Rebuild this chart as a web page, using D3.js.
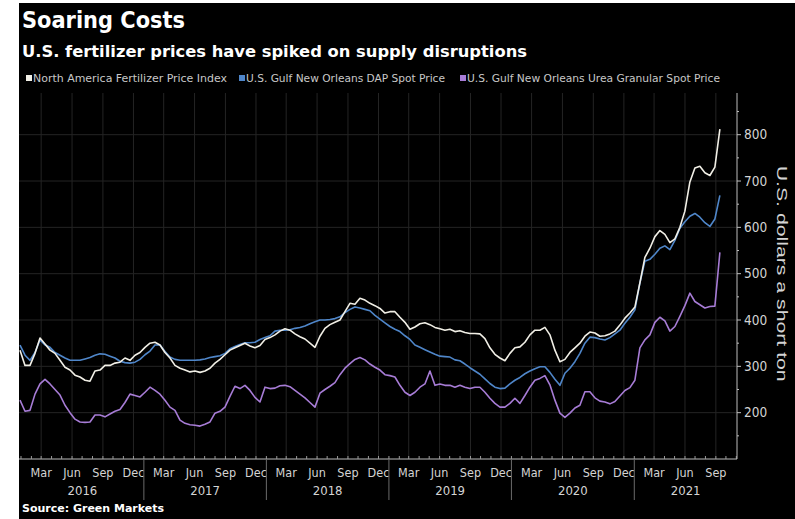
<!DOCTYPE html>
<html>
<head>
<meta charset="utf-8">
<script src="https://cdn.jsdelivr.net/npm/d3@7"></script>
<style>
  html, body { margin: 0; padding: 0; background: #fff; }
  svg { display: block; }
  text { font-family: "Liberation Sans Narrow", "DejaVu Sans Condensed", "Liberation Sans", sans-serif; }
</style>
</head>
<body>
<script>
// ---- Data -------------------------------------------------------------
// Bi-weekly observations, first and last observation dates
const firstObs = "2015-12-29";
const lastObs = "2021-09-13";

// North America Fertilizer Price Index
const naIndex = [
  335,302,302,328,361,348,335,328,313,298,
  292,281,277,270,268,290,292,302,302,307,
  309,318,313,324,330,341,350,352,346,330,
  318,302,296,292,288,290,287,290,296,307,
  315,325,335,340,345,350,344,340,345,358,
  362,368,376,381,378,370,364,359,350,341,
  365,382,390,395,400,418,436,434,447,443,
  436,431,425,415,418,418,406,395,380,385,
  392,394,390,384,381,378,380,375,377,373,
  371,371,370,360,340,326,318,312,328,340,
  342,352,368,378,378,384,368,335,310,315,
  330,340,350,365,374,372,365,366,370,376,
  389,404,415,428,480,535,555,580,593,585,
  567,575,600,635,698,728,732,718,712,730,
  812
];

// U.S. Gulf New Orleans DAP Spot Price
const dapSpot = [
  346,324,313,330,357,346,341,330,324,318,
  313,313,313,316,319,324,327,326,322,318,
  311,308,307,309,315,325,333,346,346,332,
  320,315,313,313,313,313,314,316,319,321,
  323,328,338,343,347,351,351,352,358,362,
  366,376,378,378,379,382,384,387,392,396,
  400,400,401,403,407,416,423,428,426,423,
  420,410,402,394,386,380,375,366,358,346,
  341,336,331,326,322,321,320,314,312,305,
  297,290,283,273,263,255,252,253,262,270,
  276,284,290,295,299,299,287,272,259,285,
  296,310,328,350,363,362,359,357,362,370,
  378,393,406,422,480,527,531,542,555,560,
  552,572,598,612,624,630,622,610,602,618,
  669
];

// U.S. Gulf New Orleans Urea Granular Spot Price
const ureaSpot = [
  227,203,205,240,262,272,262,250,238,216,
  200,186,180,179,180,195,195,191,197,203,
  207,222,240,237,234,244,255,248,240,227,
  212,205,184,177,174,173,171,175,180,199,
  203,212,235,257,252,259,248,233,223,255,
  252,253,258,259,256,248,240,232,222,212,
  242,250,257,265,282,296,306,315,319,314,
  305,298,292,282,280,277,259,244,237,244,
  255,262,290,259,262,259,259,255,259,255,
  252,255,255,244,231,220,212,212,220,231,
  220,237,255,270,274,280,260,227,199,190,
  199,210,216,245,245,232,225,223,219,224,
  236,248,254,270,340,357,368,395,406,398,
  376,386,408,431,458,440,433,426,429,430,
  546
];

const seriesNames = [
  "North America Fertilizer Price Index",
  "U.S. Gulf New Orleans DAP Spot Price",
  "U.S. Gulf New Orleans Urea Granular Spot Price"
];
const seriesColors = ["#f1efe6", "#4f86c9", "#a77cd6"];

const yTicks = [200, 300, 400, 500, 600, 700, 800];
const monthLabels = { 2: "Mar", 5: "Jun", 8: "Sep", 11: "Dec" };
const years = [2016, 2017, 2018, 2019, 2020, 2021];

const titleText = "Soaring Costs";
const subtitleText = "U.S. fertilizer prices have spiked on supply disruptions";
const axisTitle = "U.S. dollars a short ton";
const sourceText = "Source: Green Markets";

// ---- Setup ------------------------------------------------------------
const W = 795, H = 519;
const parse = d3.utcParse("%Y-%m-%d");
const t0 = parse(firstObs), t1 = parse(lastObs);
const n = naIndex.length;
const dates = d3.range(n).map(i => new Date(+t0 + i * (t1 - t0) / (n - 1)));

const plot = { left: 19, right: 737, top: 93, bottom: 459 };

const x = d3.scaleUtc()
  .domain([parse("2015-12-26"), parse("2021-11-03")])
  .range([plot.left, plot.right]);
const y = d3.scaleLinear()
  .domain([100, 890])
  .range([plot.bottom, plot.top]);

const svg = d3.select("body").append("svg")
  .attr("width", W).attr("height", H);

svg.append("rect").attr("width", W).attr("height", H).attr("fill", "#fff");
svg.append("rect").attr("x", 19).attr("y", 3)
  .attr("width", W - 19).attr("height", H - 3).attr("fill", "#000");

// stretch or squeeze a label to a target width
function fit(sel, width) {
  const len = sel.node().getComputedTextLength();
  if (Math.abs(len - width) > 1) {
    sel.attr("textLength", width).attr("lengthAdjust", "spacingAndGlyphs");
  }
  return sel;
}

// ---- Titles -----------------------------------------------------------
fit(svg.append("text").attr("x", 22).attr("y", 28)
  .attr("fill", "#fff").attr("font-size", 23).attr("font-weight", 700)
  .style("font-family", "'DejaVu Sans', sans-serif")
  .text(titleText), 163);

fit(svg.append("text").attr("x", 22).attr("y", 57)
  .attr("fill", "#fff").attr("font-size", 16).attr("font-weight", 700)
  .style("font-family", "'DejaVu Sans', sans-serif")
  .text(subtitleText), 505);

// ---- Legend -----------------------------------------------------------
const legendPos = [{ sq: 26, tx: 33, w: 194 }, { sq: 239, tx: 246, w: 199 }, { sq: 460, tx: 467, w: 253 }];
seriesNames.forEach((name, i) => {
  const p = legendPos[i];
  svg.append("rect").attr("x", p.sq).attr("y", 75)
    .attr("width", 6).attr("height", 6).attr("fill", seriesColors[i]);
  fit(svg.append("text").attr("x", p.tx).attr("y", 82)
    .attr("fill", "#c8c8c8").attr("font-size", 11).text(name), p.w);
});

// ---- Grid -------------------------------------------------------------
const g = svg.append("g");
const quarterMonths = d3.utcMonth.range(x.domain()[0], x.domain()[1])
  .filter(d => monthLabels[d.getUTCMonth()] !== undefined);
const allMonths = d3.utcMonth.range(x.domain()[0], x.domain()[1]);

g.selectAll(".vgrid").data(quarterMonths).join("line")
  .attr("x1", d => x(d)).attr("x2", d => x(d))
  .attr("y1", plot.top).attr("y2", plot.bottom)
  .attr("stroke", "#242424").attr("stroke-width", 1);

g.selectAll(".hgrid").data(yTicks).join("line")
  .attr("x1", plot.left).attr("x2", plot.right)
  .attr("y1", d => y(d)).attr("y2", d => y(d))
  .attr("stroke", "#242424").attr("stroke-width", 1);

// ---- Lines ------------------------------------------------------------
const line = d3.line().x((d, i) => x(dates[i])).y(d => y(d)).curve(d3.curveLinear);
const seriesData = [naIndex, dapSpot, ureaSpot];
[2, 1, 0].forEach(i => {
  svg.append("path").datum(seriesData[i])
    .attr("d", line)
    .attr("fill", "none")
    .attr("stroke", seriesColors[i])
    .attr("stroke-width", 1.6)
    .attr("stroke-linejoin", "round");
});

// ---- X axis -----------------------------------------------------------
svg.append("line").attr("x1", plot.left).attr("x2", plot.right)
  .attr("y1", plot.bottom).attr("y2", plot.bottom)
  .attr("stroke", "#bdbdbd").attr("stroke-width", 1);

svg.selectAll(".mtick").data(allMonths).join("line")
  .attr("x1", d => x(d)).attr("x2", d => x(d))
  .attr("y1", plot.bottom - 3).attr("y2", plot.bottom)
  .attr("stroke", "#9a9a9a");

svg.selectAll(".mlabel").data(quarterMonths).join("text")
  .attr("x", d => x(d)).attr("y", 477)
  .attr("text-anchor", "middle").attr("fill", "#d4d4d4")
  .attr("font-size", 12.5)
  .text(d => monthLabels[d.getUTCMonth()]);

// year separators
const yearStarts = years.slice(1).map(yr => Date.UTC(yr, 0, 1));
svg.selectAll(".ysep").data(yearStarts).join("line")
  .attr("x1", d => x(d)).attr("x2", d => x(d))
  .attr("y1", plot.bottom).attr("y2", 500)
  .attr("stroke", "#6a6a6a");

svg.selectAll(".ylabel").data(years).join("text")
  .attr("x", yr => {
    const a = Math.max(x(Date.UTC(yr, 0, 1)), plot.left);
    const b = Math.min(x(Date.UTC(yr + 1, 0, 1)), plot.right);
    return (a + b) / 2;
  })
  .attr("y", 495)
  .attr("text-anchor", "middle").attr("fill", "#d4d4d4")
  .attr("font-size", 13)
  .text(yr => yr);

// ---- Y axis (right) ---------------------------------------------------
svg.append("line").attr("x1", plot.right).attr("x2", plot.right)
  .attr("y1", plot.top).attr("y2", plot.bottom)
  .attr("stroke", "#bdbdbd").attr("stroke-width", 1);

const minorTicks = d3.range(150, 900, 50).filter(v => y(v) >= plot.top);
svg.selectAll(".ytick").data(minorTicks).join("line")
  .attr("x1", plot.right).attr("x2", v => plot.right + (v % 100 === 0 ? 4 : 2))
  .attr("y1", v => y(v)).attr("y2", v => y(v))
  .attr("stroke", "#bdbdbd");

svg.selectAll(".ylab").data(yTicks).join("text")
  .attr("x", plot.right + 7).attr("y", v => y(v) + 4.5)
  .attr("fill", "#d4d4d4").attr("font-size", 13.5)
  .text(v => v);

fit(svg.append("text")
  .attr("transform", `translate(777,${(y(200) + y(800)) / 2}) rotate(90)`)
  .attr("text-anchor", "middle").attr("fill", "#d4d4d4")
  .attr("font-size", 15)
  .style("font-family", "'Liberation Sans', sans-serif")
  .text(axisTitle), 216);

// ---- Source -----------------------------------------------------------
fit(svg.append("text").attr("x", 22).attr("y", 512)
  .attr("fill", "#fff").attr("font-size", 11).attr("font-weight", 700)
  .style("font-family", "'DejaVu Sans', sans-serif")
  .text(sourceText), 143);
</script>
</body>
</html>
